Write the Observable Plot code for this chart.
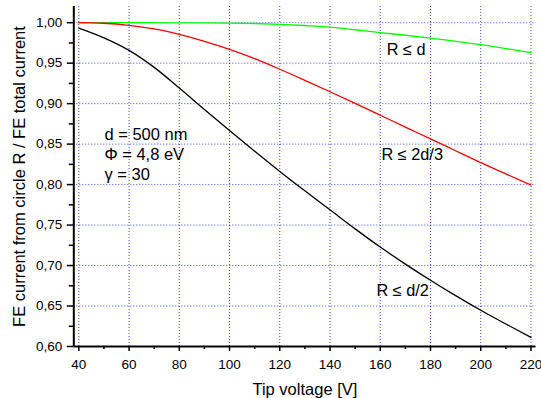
<!DOCTYPE html>
<html>
<head>
<meta charset="utf-8">
<script src="https://cdn.jsdelivr.net/npm/d3@7"></script>
<script src="https://cdn.jsdelivr.net/npm/@observablehq/plot@0.6"></script>
<style>
  html, body { margin: 0; padding: 0; background: #fff; }
  #chart svg { display: block; }
</style>
</head>
<body>
<div id="chart"></div>
<script>
// Data
const voltage = [40, 50, 60, 70, 80, 90, 100, 110, 120, 130, 140, 150, 160, 170, 180, 190, 200, 210, 220];
const rLeD   = [1.000, 1.000, 1.000, 1.000, 0.9998, 0.9997, 0.9995, 0.999, 0.998, 0.9965, 0.9946, 0.9913, 0.9877, 0.9845, 0.981, 0.977, 0.9728, 0.968, 0.963];
const rLe2d3 = [1.000, 0.9993, 0.9968, 0.9923, 0.9855, 0.977, 0.967, 0.9555, 0.9425, 0.9288, 0.9147, 0.9003, 0.8857, 0.871, 0.8565, 0.8418, 0.8272, 0.8132, 0.7995];
const rLeD2  = [0.9933, 0.9813, 0.9658, 0.9448, 0.9193, 0.8928, 0.8668, 0.8413, 0.8163, 0.7923, 0.7688, 0.7453, 0.7228, 0.7018, 0.6818, 0.6628, 0.6448, 0.6278, 0.6113];

const seriesNames = ["R ≤ d", "R ≤ 2d/3", "R ≤ d/2"];
const seriesValues = [rLeD, rLe2d3, rLeD2];
const seriesColors = ["#00ff00", "#ff0000", "#000000"];

const xTicks = [40, 60, 80, 100, 120, 140, 160, 180, 200, 220];
const xMinorTicks = [50, 70, 90, 110, 130, 150, 170, 190, 210];
const yTicks = [0.60, 0.65, 0.70, 0.75, 0.80, 0.85, 0.90, 0.95, 1.00];
const yMinorTicks = [0.625, 0.675, 0.725, 0.775, 0.825, 0.875, 0.925, 0.975];

// Curve labels (data coordinates)
const labelText = ["R ≤ d", "R ≤ 2d/3", "R ≤ d/2"];
const labelX = [162.6, 160.5, 158.5];
const labelY = [0.9607, 0.831, 0.663];

// Parameter block
const paramText = ["d = 500 nm", "Φ = 4,8 eV", "γ = 30"];
const paramX = [50.2, 50.2, 50.2];
const paramY = [0.8557, 0.8298, 0.8051];

const xTitle = "Tip voltage [V]";
const yTitle = "FE current from circle R / FE total current";

const rows = [];
seriesNames.forEach((name, s) => {
  voltage.forEach((v, i) => rows.push({series: name, v, value: seriesValues[s][i]}));
});
const labels = labelText.map((t, i) => ({t, x: labelX[i], y: labelY[i]}));
const params = paramText.map((t, i) => ({t, x: paramX[i], y: paramY[i]}));

const fmt = d => d.toFixed(2).replace(".", ",");
const FONT = "Arial, 'Liberation Sans', Helvetica, sans-serif";
const GRID = {stroke: "#0000ff", strokeOpacity: 0.75, strokeDasharray: "1,2", strokeWidth: 1};

const chart = Plot.plot({
  width: 541,
  height: 398,
  marginLeft: 73.3,
  marginRight: 5.5,
  marginTop: 6,
  marginBottom: 52,
  style: {fontFamily: FONT, fontSize: "13.5px", color: "#000", background: "#fff"},
  x: {domain: [38, 222]},
  y: {domain: [0.60, 1.02]},
  color: {domain: seriesNames, range: seriesColors},
  marks: [
    Plot.gridX(xTicks, GRID),
    Plot.gridY(yTicks.filter(d => d > 0.6), GRID),
    Plot.line(rows, {x: "v", y: "value", stroke: "series", z: "series", strokeWidth: 1.3, curve: "monotone-x"}),
    Plot.axisX(xTicks, {tickSize: 5, tickPadding: 7.5, tickFormat: d => String(d), label: null, strokeWidth: 1.5}),
    Plot.axisX(xMinorTicks, {tickSize: 3, tickFormat: () => "", label: null, strokeWidth: 1.5}),
    Plot.axisY(yTicks, {tickSize: 6.5, tickPadding: 5, tickFormat: fmt, label: null, strokeWidth: 1.5}),
    Plot.axisY(yMinorTicks, {tickSize: 4.5, tickFormat: () => "", label: null, strokeWidth: 1.5}),
    Plot.ruleY([0.60], {stroke: "#000", strokeWidth: 2}),
    Plot.ruleX([38], {stroke: "#000", strokeWidth: 2}),
    Plot.text(labels, {x: "x", y: "y", text: "t", textAnchor: "start", lineAnchor: "bottom", fontSize: 16.3, fill: "#000"}),
    Plot.text(params, {x: "x", y: "y", text: "t", textAnchor: "start", lineAnchor: "bottom", fontSize: 16.5, fill: "#000"}),
    Plot.text([xTitle], {frameAnchor: "bottom", lineAnchor: "bottom", dy: 48, fontSize: 16.5, fill: "#000"}),
    Plot.text([yTitle], {frameAnchor: "left", rotate: -90, lineAnchor: "middle", textAnchor: "middle", dx: -53.6, fontSize: 16.5, fill: "#000"})
  ]
});
document.getElementById("chart").appendChild(chart);
</script>
</body>
</html>
